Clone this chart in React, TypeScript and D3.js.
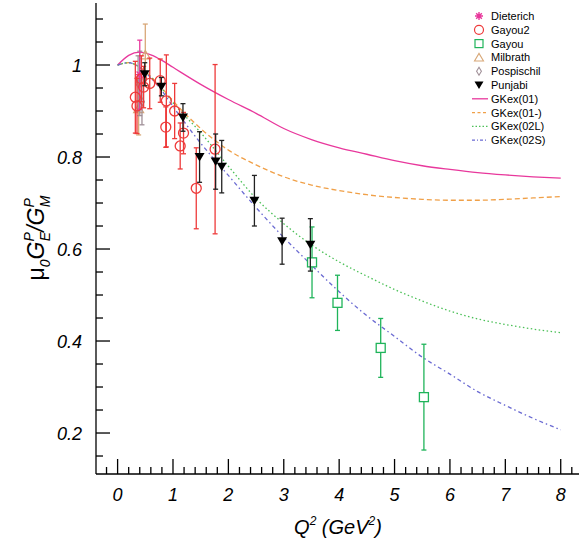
import React from 'react';
import * as d3 from 'd3';

// ---- data ----
const curveQ2 = [0, 0.2, 0.4, 0.6, 0.8, 1.0, 1.5, 2.0, 2.5, 3.0, 3.5, 4.0, 4.5, 5.0, 5.5, 6.0, 6.5, 7.0, 7.5, 8.0];
const gkex01 = [1.0, 1.021, 1.028, 1.022, 1.01, 0.995, 0.958, 0.925, 0.895, 0.862, 0.838, 0.82, 0.806, 0.792, 0.781, 0.773, 0.766, 0.761, 0.757, 0.754];
const gkex01m = [1.0, 1.005, 0.995, 0.975, 0.95, 0.922, 0.862, 0.815, 0.783, 0.757, 0.739, 0.727, 0.718, 0.712, 0.708, 0.706, 0.706, 0.708, 0.711, 0.714];
const gkex02L = [1.0, 1.005, 0.995, 0.974, 0.948, 0.918, 0.853, 0.78, 0.71, 0.655, 0.609, 0.572, 0.541, 0.512, 0.487, 0.465, 0.448, 0.436, 0.426, 0.418];
const gkex02S = [1.0, 1.005, 0.994, 0.972, 0.944, 0.91, 0.83, 0.76, 0.69, 0.625, 0.565, 0.507, 0.455, 0.41, 0.365, 0.328, 0.29, 0.26, 0.232, 0.207];

const dieterichQ2 = [0.4];
const dieterichR = [0.979];
const dieterichErr = [0.075];

const milbrathQ2 = [0.38, 0.5];
const milbrathR = [0.905, 1.022];
const milbrathErr = [0.057, 0.067];

const pospischilQ2 = [0.37, 0.4, 0.44];
const pospischilR = [0.96, 0.96, 0.92];
const pospischilErr = [0.06, 0.07, 0.05];

const gayou2Q2 = [0.32, 0.35, 0.43, 0.47, 0.58, 0.77, 0.87, 0.88, 1.03, 1.13, 1.19, 1.42, 1.76];
const gayou2R = [0.93, 0.911, 0.97, 0.952, 0.96, 0.966, 0.865, 0.922, 0.9, 0.824, 0.852, 0.732, 0.817];
const gayou2Err = [0.078, 0.06, 0.05, 0.045, 0.055, 0.047, 0.044, 0.1, 0.06, 0.05, 0.045, 0.088, 0.184];

const gayouQ2 = [3.51, 3.97, 4.75, 5.53];
const gayouR = [0.571, 0.483, 0.385, 0.278];
const gayouErr = [0.077, 0.06, 0.064, 0.115];

const punjabiQ2 = [0.49, 0.79, 1.18, 1.48, 1.77, 1.88, 2.47, 2.97, 3.48];
const punjabiR = [0.98, 0.953, 0.886, 0.8, 0.79, 0.779, 0.705, 0.617, 0.609];
const punjabiErr = [0.025, 0.02, 0.03, 0.055, 0.06, 0.057, 0.055, 0.05, 0.057];

const xMajor = [0, 1, 2, 3, 4, 5, 6, 7, 8];
const yMajor = [0.2, 0.4, 0.6, 0.8, 1.0];
const yMajorLabels = ['0.2', '0.4', '0.6', '0.8', '1'];

const legendNames = ['Dieterich', 'Gayou2', 'Gayou', 'Milbrath', 'Pospischil', 'Punjabi', 'GKex(01)', 'GKex(01-)', 'GKex(02L)', 'GKex(02S)'];

// ---- styles ----
const C_MAG = '#e8389c';
const C_RED = '#ee3a3a';
const C_GRN = '#1fb45a';
const C_TAN = '#d8a878';
const C_GRY = '#a09098';
const C_ORG = '#f0a048';
const C_LGRN = '#4cc058';
const C_BLU = '#6a6ad2';
const FONT = '"Liberation Sans", Arial, Helvetica, sans-serif';

const W = 579, H = 546;
const x = d3.scaleLinear().domain([-0.39, 8.33]).range([96, 579]);
const y = d3.scaleLinear().domain([0.1109, 1.1348]).range([474, 3]);

const mkLine = (vals: number[]) =>
  d3.line<number>().x((_, i) => x(curveQ2[i])).y((v) => y(v)).curve(d3.curveMonotoneX)(vals) || '';

function ErrBar({ q, r, e, color, w = 1.3 }: { q: number; r: number; e: number; color: string; w?: number }) {
  const cx = x(q);
  return (
    <g stroke={color} strokeWidth={w}>
      <line x1={cx} x2={cx} y1={y(r + e)} y2={y(r - e)} />
      <line x1={cx - 2.5} x2={cx + 2.5} y1={y(r + e)} y2={y(r + e)} />
      <line x1={cx - 2.5} x2={cx + 2.5} y1={y(r - e)} y2={y(r - e)} />
    </g>
  );
}

const triDown = (cx: number, cy: number, s: number) => `M${cx - s},${cy - s * 0.8}L${cx + s},${cy - s * 0.8}L${cx},${cy + s * 0.9}Z`;
const triUp = (cx: number, cy: number, s: number) => `M${cx - s},${cy + s * 0.8}L${cx + s},${cy + s * 0.8}L${cx},${cy - s * 0.9}Z`;
const diamond = (cx: number, cy: number, s: number) => `M${cx},${cy - s}L${cx + s * 0.6},${cy}L${cx},${cy + s}L${cx - s * 0.6},${cy}Z`;
const star = (cx: number, cy: number, s: number) => {
  let p = '';
  for (let k = 0; k < 4; k++) {
    const a = (k * Math.PI) / 4;
    p += `M${cx - s * Math.cos(a)},${cy - s * Math.sin(a)}L${cx + s * Math.cos(a)},${cy + s * Math.sin(a)}`;
  }
  return p;
};

export default function App() {
  const xMinor = d3.range(-0.2, 8.3, 0.2).filter((v) => Math.abs(v - Math.round(v)) > 1e-6);
  const yMinor = d3.range(0.15, 1.13, 0.05).filter((v) => Math.abs(v * 5 - Math.round(v * 5)) > 1e-6);
  const legX = 479, legTx = 491;
  const legY = (i: number) => 16 + i * 13.8;

  return (
    <svg width={W} height={H} style={{ position: 'absolute', left: 0, top: 0, background: '#fff' }} fontFamily={FONT}>
      {/* curves */}
      <path d={mkLine(gkex01)} fill="none" stroke={C_MAG} strokeWidth={1.3} />
      <path d={mkLine(gkex01m)} fill="none" stroke={C_ORG} strokeWidth={1.3} strokeDasharray="5,3" />
      <path d={mkLine(gkex02L)} fill="none" stroke={C_LGRN} strokeWidth={1.3} strokeDasharray="1.5,2.5" />
      <path d={mkLine(gkex02S)} fill="none" stroke={C_BLU} strokeWidth={1.3} strokeDasharray="4,3,1.5,3" />

      {/* Milbrath */}
      {milbrathQ2.map((q, i) => (
        <g key={'m' + i}>
          <ErrBar q={q} r={milbrathR[i]} e={milbrathErr[i]} color={C_TAN} />
          <path d={triUp(x(q), y(milbrathR[i]), 5)} fill="none" stroke={C_TAN} strokeWidth={1.2} />
        </g>
      ))}
      {/* Pospischil */}
      {pospischilQ2.map((q, i) => (
        <g key={'p' + i}>
          <ErrBar q={q} r={pospischilR[i]} e={pospischilErr[i]} color={C_GRY} />
          <path d={diamond(x(q), y(pospischilR[i]), 4)} fill="none" stroke={C_GRY} strokeWidth={1.2} />
        </g>
      ))}
      {/* Dieterich */}
      {dieterichQ2.map((q, i) => (
        <g key={'d' + i}>
          <ErrBar q={q} r={dieterichR[i]} e={dieterichErr[i]} color={C_MAG} />
          <path d={star(x(q), y(dieterichR[i]), 4.5)} fill="none" stroke={C_MAG} strokeWidth={1.4} />
        </g>
      ))}
      {/* Gayou2 */}
      {gayou2Q2.map((q, i) => (
        <g key={'g2' + i}>
          <ErrBar q={q} r={gayou2R[i]} e={gayou2Err[i]} color={C_RED} />
          <circle cx={x(q)} cy={y(gayou2R[i])} r={5} fill="none" stroke={C_RED} strokeWidth={1.3} />
        </g>
      ))}
      {/* Gayou */}
      {gayouQ2.map((q, i) => (
        <g key={'g' + i}>
          <ErrBar q={q} r={gayouR[i]} e={gayouErr[i]} color={C_GRN} />
          <rect x={x(q) - 4.5} y={y(gayouR[i]) - 4.5} width={9} height={9} fill="#fff" stroke={C_GRN} strokeWidth={1.3} />
        </g>
      ))}
      {/* Punjabi */}
      {punjabiQ2.map((q, i) => (
        <g key={'pj' + i}>
          <ErrBar q={q} r={punjabiR[i]} e={punjabiErr[i]} color="#222" />
          <path d={triDown(x(q), y(punjabiR[i]), 5)} fill="#000" />
        </g>
      ))}

      {/* axes */}
      <g stroke="#000" strokeWidth={1.3}>
        <line x1={96} x2={96} y1={3} y2={474} />
        <line x1={96} x2={579} y1={474} y2={474} />
        {xMajor.map((v) => (
          <line key={'xM' + v} x1={x(v)} x2={x(v)} y1={474} y2={459} />
        ))}
        {xMinor.map((v, i) => (
          <line key={'xm' + i} x1={x(v)} x2={x(v)} y1={474} y2={467} />
        ))}
        {yMajor.map((v) => (
          <line key={'yM' + v} x1={96} x2={110} y1={y(v)} y2={y(v)} />
        ))}
        {yMinor.map((v, i) => (
          <line key={'ym' + i} x1={96} x2={103} y1={y(v)} y2={y(v)} />
        ))}
      </g>
      <g fontSize={18} fontStyle="italic" fill="#000">
        {xMajor.map((v) => (
          <text key={'xl' + v} x={x(v)} y={501} textAnchor="middle">{v}</text>
        ))}
        {yMajor.map((v, i) => (
          <text key={'yl' + v} x={82} y={y(v) + 6.5} textAnchor="end">{yMajorLabels[i]}</text>
        ))}
      </g>

      {/* axis titles */}
      <text x={338} y={534} textAnchor="middle" fontSize={20} fontStyle="italic">
        Q<tspan fontSize={12} dy={-9}>2</tspan>
        <tspan dy={9}> (GeV</tspan>
        <tspan fontSize={12} dy={-9}>2</tspan>
        <tspan dy={9}>)</tspan>
      </text>
      <text transform="translate(44,238) rotate(-90)" textAnchor="middle" fontSize={23} fontStyle="italic">
        <tspan fontStyle="normal">μ</tspan>
        <tspan fontSize={14} dy={6}>0</tspan>
        <tspan dy={-6}>G</tspan>
        <tspan fontSize={14} dy={-10}>P</tspan>
        <tspan fontSize={14} dx={-9} dy={16}>E</tspan>
        <tspan dy={-6}>/G</tspan>
        <tspan fontSize={14} dy={-10}>P</tspan>
        <tspan fontSize={14} dx={-9} dy={16}>M</tspan>
      </text>

      {/* legend */}
      <g>
        <path d={star(legX, legY(0), 4)} stroke={C_MAG} strokeWidth={1.4} fill="none" />
        <circle cx={legX} cy={legY(1)} r={4.5} fill="none" stroke={C_RED} strokeWidth={1.2} />
        <rect x={legX - 4} y={legY(2) - 4} width={8} height={8} fill="none" stroke={C_GRN} strokeWidth={1.2} />
        <path d={triUp(legX, legY(3), 4.5)} fill="none" stroke={C_TAN} strokeWidth={1.1} />
        <path d={diamond(legX, legY(4), 4)} fill="none" stroke={C_GRY} strokeWidth={1.1} />
        <path d={triDown(legX, legY(5), 4.5)} fill="#000" />
        <line x1={472} x2={488} y1={legY(6)} y2={legY(6)} stroke={C_MAG} strokeWidth={1.3} />
        <line x1={472} x2={488} y1={legY(7)} y2={legY(7)} stroke={C_ORG} strokeWidth={1.3} strokeDasharray="3,2.5" />
        <line x1={472} x2={488} y1={legY(8)} y2={legY(8)} stroke={C_LGRN} strokeWidth={1.3} strokeDasharray="1.5,2" />
        <line x1={472} x2={488} y1={legY(9)} y2={legY(9)} stroke={C_BLU} strokeWidth={1.3} strokeDasharray="3,2,1,2" />
        {legendNames.map((n, i) => (
          <text key={n} x={legTx} y={legY(i) + 4} fontSize={11} fill="#000">{n}</text>
        ))}
      </g>
    </svg>
  );
}
